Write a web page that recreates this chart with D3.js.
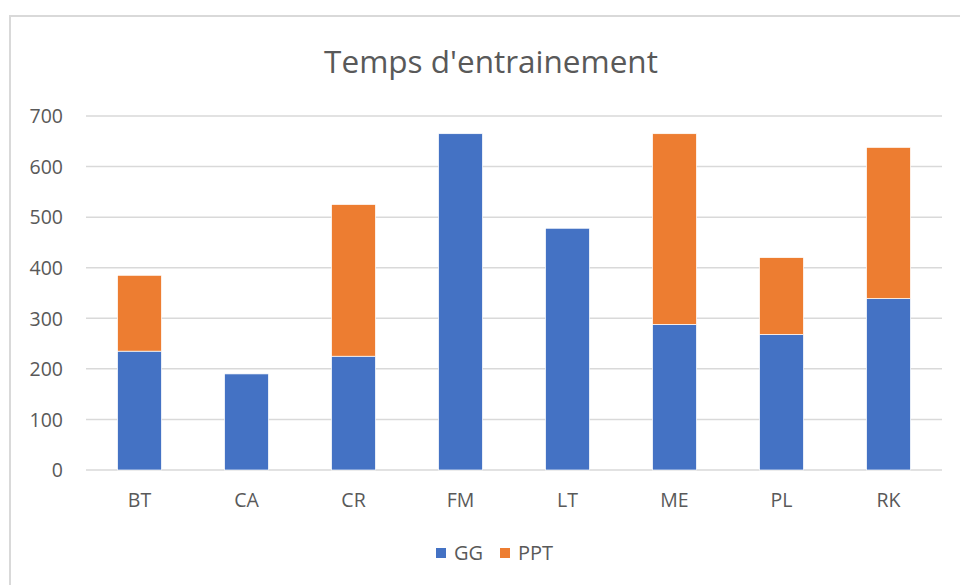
<!DOCTYPE html>
<html>
<head>
<meta charset="utf-8">
<script src="https://cdn.jsdelivr.net/npm/d3@7"></script>
<style>
  body { margin: 0; background: #fff; }
  svg text { font-family: "Open Sans", "Noto Sans", sans-serif; fill: #595959; }
</style>
</head>
<body>
<svg id="chart" width="960" height="585"></svg>
<script>
// Data
const categories = ["BT", "CA", "CR", "FM", "LT", "ME", "PL", "RK"];
const ggValues = [235, 190, 225, 665, 478, 288, 268, 339];
const pptValues = [150, 0, 300, 0, 0, 377, 152, 299];
const seriesNames = ["GG", "PPT"];
const seriesColors = ["#4472C4", "#ED7D31"];
const yTicks = [0, 100, 200, 300, 400, 500, 600, 700];

const svg = d3.select("#chart");

// chart frame
svg.append("rect")
  .attr("x", 10).attr("y", 16)
  .attr("width", 960).attr("height", 600)
  .attr("fill", "none")
  .attr("stroke", "#d9d9d9")
  .attr("stroke-width", 2);

const margin = { top: 116, right: 18, bottom: 115, left: 86 };
const width = 960 - margin.left - margin.right;
const height = 585 - margin.top - margin.bottom;

const g = svg.append("g").attr("transform", `translate(${margin.left},${margin.top})`);

// title
svg.append("text")
  .attr("x", 491).attr("y", 73)
  .attr("text-anchor", "middle")
  .style("font-size", "31.5px")
  .text("Temps d'entrainement");

const rows = categories.map((c, i) => ({ cat: c, GG: ggValues[i], PPT: pptValues[i] }));

const x = d3.scaleBand().domain(categories).range([0, width]).paddingInner(0.59).paddingOuter(0.295);
const y = d3.scaleLinear().domain([0, 700]).range([height, 0]);

// gridlines
g.append("g")
  .selectAll("line")
  .data(yTicks)
  .join("line")
  .attr("x1", 0).attr("x2", width)
  .attr("y1", d => y(d)).attr("y2", d => y(d))
  .attr("stroke", "#d9d9d9")
  .attr("stroke-width", 1.5);

// y axis labels
const yAxis = g.append("g")
  .call(d3.axisLeft(y).tickValues(yTicks).tickSize(0).tickPadding(23));
yAxis.select(".domain").remove();
yAxis.selectAll("text").style("font-size", "19.5px").attr("dy", "0.35em");

// x axis labels
const xAxis = g.append("g")
  .attr("transform", `translate(0,${height})`)
  .call(d3.axisBottom(x).tickSize(0).tickPadding(23));
xAxis.select(".domain").remove();
xAxis.selectAll("text").style("font-size", "19.5px");

// stacked bars
const stack = d3.stack().keys(seriesNames)(rows);
g.selectAll(".series")
  .data(stack)
  .join("g")
  .attr("class", "series")
  .attr("fill", (d, i) => seriesColors[i])
  .selectAll("rect")
  .data(d => d.filter(p => p[1] - p[0] > 0))
  .join("rect")
  .attr("x", d => x(d.data.cat))
  .attr("y", d => y(d[1]))
  .attr("width", x.bandwidth())
  .attr("height", d => y(d[0]) - y(d[1]))
  .attr("stroke", "#fff")
  .attr("stroke-width", 0.7);

// legend
const legend = svg.append("g").attr("transform", "translate(436,553)");
const items = legend.selectAll("g")
  .data(seriesNames)
  .join("g")
  .attr("transform", (d, i) => `translate(${i * 64},0)`);
items.append("rect")
  .attr("x", 0).attr("y", -5)
  .attr("width", 10).attr("height", 10)
  .attr("fill", (d, i) => seriesColors[i]);
items.append("text")
  .attr("x", 18).attr("dy", "0.35em")
  .style("font-size", "20px")
  .text(d => d);
</script>
</body>
</html>
